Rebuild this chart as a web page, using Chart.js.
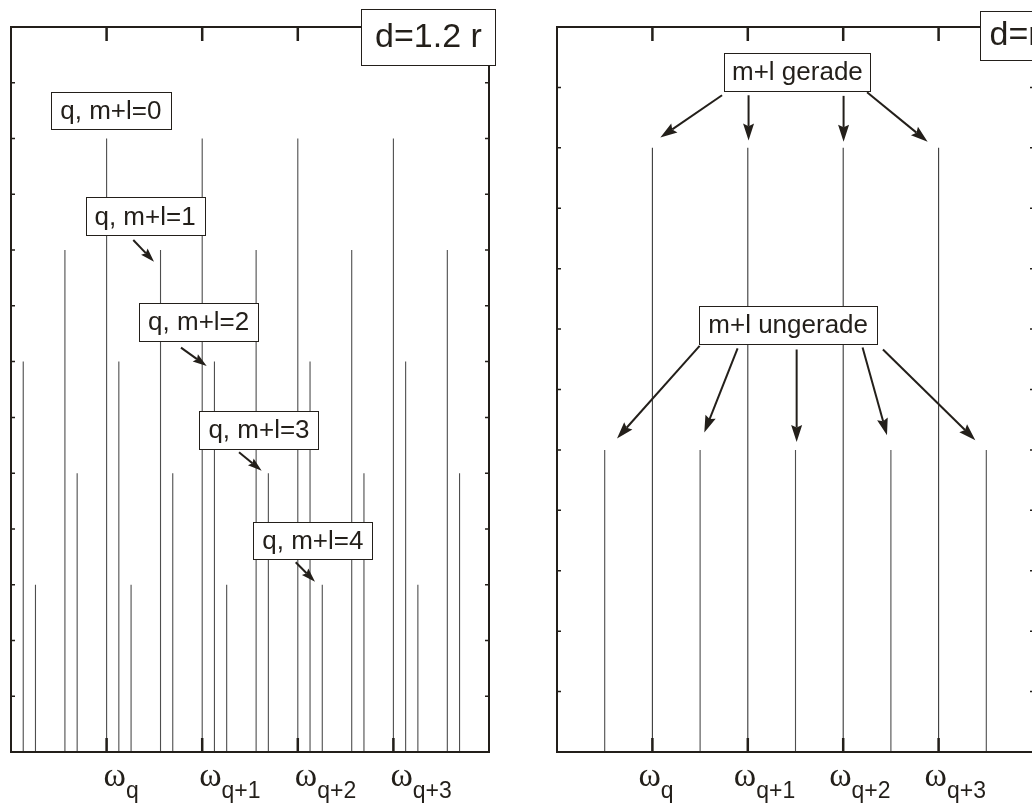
<!DOCTYPE html>
<html>
<head>
<meta charset="utf-8">
<script src="https://cdn.jsdelivr.net/npm/chart.js@4.4.1/dist/chart.umd.min.js"></script>
<style>
  html, body { margin: 0; padding: 0; background: #fff; width: 1032px; height: 812px; overflow: hidden; }
  canvas { position: absolute; top: 0; }
  #left  { left: 0; }
  #right { left: 520px; }
</style>
</head>
<body>
<canvas id="left" width="520" height="812"></canvas>
<canvas id="right" width="540" height="812"></canvas>
<script>
// Mode frequencies in units of the free spectral range (0 = left edge of the panel)
const L_FREQ_0 = [1, 2, 3, 4];
const L_FREQ_1 = [0.564, 1.564, 2.564, 3.564, 4.564];
const L_FREQ_2 = [0.128, 1.128, 2.128, 3.128, 4.128];
const L_FREQ_3 = [0.692, 1.692, 2.692, 3.692, 4.692];
const L_FREQ_4 = [0.256, 1.256, 2.256, 3.256, 4.256];
const L_HEIGHT = [11, 9, 7, 5, 3];

const R_FREQ_EVEN = [1, 2, 3, 4];
const R_FREQ_ODD  = [0.5, 1.5, 2.5, 3.5, 4.5];
const R_HEIGHT    = [10, 5];

const TICK_POS = [1, 2, 3, 4];
const TICK_SUB = ['q', 'q+1', 'q+2', 'q+3'];

const INK   = '#231f1a';
const LINE  = '#4e4e4e';
const SANS  = "'Liberation Sans', Arial, sans-serif";
const SERIF = "'Liberation Serif', 'Times New Roman', serif";

// one vertical stick per frequency, broken apart by null points
function sticks(freqs, h) {
  const pts = [];
  freqs.forEach((f) => pts.push({ x: f, y: 0 }, { x: f, y: h }, { x: f, y: null }));
  return pts;
}

function lineSet(freqs, h, color) {
  return {
    data: sticks(freqs, h),
    showLine: true,
    spanGaps: false,
    borderColor: color || LINE,
    borderWidth: 1.1,
    pointRadius: 0,
  };
}

// frame, inward ticks and the omega labels under the axis
const framePlugin = {
  id: 'frame',
  afterDatasetsDraw(chart, args, opts) {
    const { ctx, chartArea: a, scales: { x, y } } = chart;
    ctx.save();
    ctx.strokeStyle = INK;

    ctx.lineWidth = 1.5;
    for (let v = y.min + 1; v < y.max; v++) {
      const py = y.getPixelForValue(v);
      ctx.beginPath();
      ctx.moveTo(a.left, py);  ctx.lineTo(a.left + 4, py);
      ctx.moveTo(a.right, py); ctx.lineTo(a.right - 4, py);
      ctx.stroke();
    }

    ctx.lineWidth = 2.5;
    TICK_POS.forEach((v) => {
      const px = x.getPixelForValue(v);
      ctx.beginPath();
      ctx.moveTo(px, a.top);    ctx.lineTo(px, a.top + 14);
      ctx.moveTo(px, a.bottom); ctx.lineTo(px, a.bottom - 14);
      ctx.stroke();
    });

    ctx.lineWidth = 2;
    ctx.strokeRect(a.left, a.top, a.right - a.left, a.bottom - a.top);

    ctx.fillStyle = INK;
    ctx.textAlign = 'left';
    ctx.textBaseline = 'alphabetic';
    TICK_POS.forEach((v, i) => {
      const px = x.getPixelForValue(v) + opts.labelShift;
      ctx.font = '34px ' + SERIF;
      ctx.fillText('ω', px, a.bottom + 34);
      const w = ctx.measureText('ω').width;
      ctx.font = '23px ' + SANS;
      ctx.fillText(TICK_SUB[i], px + w, a.bottom + 46);
    });
    ctx.restore();
  },
};

// text boxes and arrows, placed in data units
const notesPlugin = {
  id: 'notes',
  afterDraw(chart, args, opts) {
    const { ctx, scales: { x, y } } = chart;
    ctx.save();
    ctx.strokeStyle = INK;
    ctx.fillStyle = INK;

    (opts.arrows || []).forEach(([x0, y0, x1, y1]) => {
      const ax = x.getPixelForValue(x0), ay = y.getPixelForValue(y0);
      const bx = x.getPixelForValue(x1), by = y.getPixelForValue(y1);
      const ang = Math.atan2(by - ay, bx - ax);
      const c = Math.cos(ang), s = Math.sin(ang);
      const hl = opts.headLen, hw = opts.headWidth;
      const cx = bx - hl * c, cy = by - hl * s;
      ctx.lineWidth = 2;
      ctx.beginPath();
      ctx.moveTo(ax, ay);
      ctx.lineTo(bx - 0.85 * hl * c, by - 0.85 * hl * s);
      ctx.stroke();
      ctx.beginPath();
      ctx.moveTo(bx, by);
      ctx.lineTo(cx + hw * s, cy - hw * c);
      ctx.lineTo(bx - 0.85 * hl * c, by - 0.85 * hl * s);
      ctx.lineTo(cx - hw * s, cy + hw * c);
      ctx.closePath();
      ctx.fill();
    });

    (opts.boxes || []).forEach((b) => {
      const cx = x.getPixelForValue(b.x), cy = y.getPixelForValue(b.y);
      const left = Math.round(cx - b.w / 2) + 0.5, top = Math.round(cy - b.h / 2) + 0.5;
      ctx.fillStyle = '#fff';
      ctx.fillRect(left, top, b.w, b.h);
      ctx.lineWidth = 1;
      ctx.strokeRect(left, top, b.w, b.h);
      ctx.fillStyle = INK;
      ctx.font = b.size + 'px ' + SANS;
      ctx.textAlign = b.align || 'center';
      ctx.textBaseline = 'middle';
      const tx = b.align === 'left' ? left + 9 : cx;
      ctx.fillText(b.text, tx, cy + 1);
    });
    ctx.restore();
  },
};

function spectrum(id, datasets, yMax, padding, frame, notes) {
  return new Chart(document.getElementById(id), {
    type: 'scatter',
    data: { datasets },
    options: {
      responsive: false,
      animation: false,
      events: [],
      layout: { padding },
      plugins: {
        legend: { display: false },
        tooltip: { enabled: false },
        frame,
        notes,
      },
      scales: {
        x: { type: 'linear', min: 0, max: 5, display: false },
        y: { type: 'linear', min: 0, max: yMax, display: false },
      },
    },
    plugins: [framePlugin, notesPlugin],
  });
}

// d = 1.2 r: every transverse order sits at its own offset
spectrum('left', [
  lineSet(L_FREQ_0, L_HEIGHT[0]),
  lineSet(L_FREQ_1, L_HEIGHT[1]),
  lineSet(L_FREQ_2, L_HEIGHT[2]),
  lineSet(L_FREQ_3, L_HEIGHT[3]),
  lineSet(L_FREQ_4, L_HEIGHT[4]),
], 13, { left: 11, top: 27, right: 31, bottom: 60 }, { labelShift: -3 }, {
  headLen: 14, headWidth: 4.5,
  boxes: [
    { text: 'd=1.2 r',  x: 4.367, y: 12.82, w: 134, h: 56, size: 34 },
    { text: 'q, m+l=0', x: 1.044, y: 11.505, w: 120, h: 37, size: 26 },
    { text: 'q, m+l=1', x: 1.402, y: 9.605,  w: 119, h: 38, size: 26 },
    { text: 'q, m+l=2', x: 1.963, y: 7.708,  w: 119, h: 38, size: 26 },
    { text: 'q, m+l=3', x: 2.594, y: 5.774,  w: 119, h: 38, size: 26 },
    { text: 'q, m+l=4', x: 3.157, y: 3.795,  w: 119, h: 37, size: 26 },
  ],
  arrows: [
    [1.279, 9.18, 1.496, 8.79],
    [1.778, 7.25, 2.047, 6.92],
    [2.385, 5.374, 2.622, 5.044],
    [2.978, 3.401, 3.18, 3.054],
  ],
});

// d = r: even and odd orders collapse onto two combs
spectrum('right', [
  lineSet(R_FREQ_EVEN, R_HEIGHT[0], '#3a3a3a'),
  lineSet(R_FREQ_ODD, R_HEIGHT[1]),
], 12, { left: 37, top: 27, right: 26, bottom: 60 }, { labelShift: -14 }, {
  headLen: 17, headWidth: 5.5,
  boxes: [
    { text: 'd=r', x: 4.849, y: 11.866, w: 80, h: 49, size: 34, align: 'left' },
    { text: 'm+l gerade',   x: 2.520, y: 11.251, w: 146, h: 38, size: 26 },
    { text: 'm+l ungerade', x: 2.423, y: 7.073,  w: 178, h: 38, size: 26 },
  ],
  arrows: [
    [1.73, 10.87, 1.083, 10.17],
    [2.008, 10.87, 2.008, 10.12],
    [3.004, 10.86, 3.004, 10.10],
    [3.25, 10.92, 3.885, 10.10],
    [1.495, 6.722, 0.629, 5.189],
    [1.893, 6.679, 1.544, 5.288],
    [2.512, 6.662, 2.512, 5.132],
    [3.203, 6.695, 3.459, 5.243],
    [3.417, 6.662, 4.385, 5.161],
  ],
});
</script>
</body>
</html>
